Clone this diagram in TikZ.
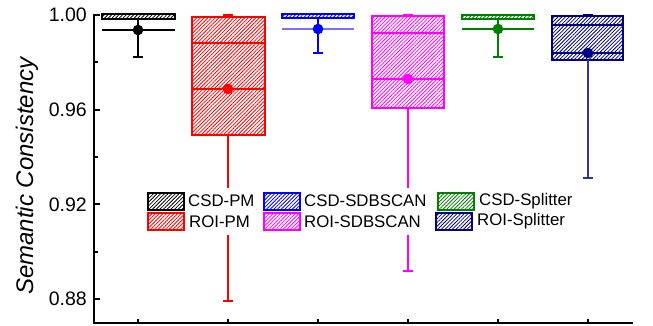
\documentclass[tikz,border=0pt]{standalone}
\usepackage{fontspec}
\setmainfont{Liberation Sans}
\usetikzlibrary{patterns.meta}
\definecolor{cgreen}{RGB}{0,128,0}
\definecolor{cnavy}{RGB}{0,0,128}
\definecolor{cmag}{RGB}{255,0,255}
\tikzset{
  hatchbox/.style={line width=1.5pt, draw=#1,
    pattern={Lines[angle=45,distance=2.6pt,line width=0.8pt]}, pattern color=#1},
  whisk/.style={line width=1.5pt, draw=#1},
  meandot/.style={fill=#1, draw=none},
  ticklab/.style={font=\fontsize{19.5}{22}\selectfont, anchor=east, inner sep=0pt},
  legtext/.style={font=\fontsize{16.8}{20}\selectfont, anchor=west, inner sep=0pt},
  swatch/.style={hatchbox=#1, minimum width=36pt, minimum height=17pt, inner sep=0pt, anchor=west},
  axisline/.style={line width=2pt, black}
}
\begin{document}
\begin{tikzpicture}[x=1pt,y=-1pt]
\useasboundingbox (0,0) rectangle (653,325);
% ---- CSD-PM (black)
\draw[hatchbox=black] (102,14) rectangle (175,19);
\draw[whisk=black] (102,30) -- (175,30);
\draw[whisk=black] (138,19) -- (138,57) (133,57) -- (143,57);
\fill[meandot=black] (138,30) circle (5.3);
% ---- ROI-PM (red)
\draw[hatchbox=red] (192,17) rectangle (265,135);
\draw[whisk=red] (192,43) -- (265,43) (192,89) -- (265,89);
\draw[whisk=red] (228,17) -- (228,15) (223,15) -- (233,15);
\draw[whisk=red] (228,135) -- (228,301) (223,301) -- (233,301);
\fill[meandot=red] (228,89) circle (5.3);
% ---- CSD-SDBSCAN (blue)
\draw[hatchbox=blue] (282,14) rectangle (354,18);
\draw[whisk=blue!55] (282,29) -- (354,29);
\draw[whisk=blue] (318,18) -- (318,53) (313,53) -- (323,53);
\fill[meandot=blue] (318,29) circle (5.3);
% ---- ROI-SDBSCAN (magenta)
\draw[hatchbox=cmag] (372,16) rectangle (444,108);
\draw[whisk=cmag] (372,33) -- (444,33) (372,79) -- (444,79);
\draw[whisk=cmag] (408,16) -- (408,15) (403,15) -- (413,15);
\draw[whisk=cmag] (408,108) -- (408,271) (403,271) -- (413,271);
\fill[meandot=cmag] (408,79) circle (5.3);
% ---- CSD-Splitter (green)
\draw[hatchbox=cgreen] (462,15) rectangle (534,19);
\draw[whisk=cgreen] (462,29) -- (534,29);
\draw[whisk=cgreen] (498,19) -- (498,57) (493,57) -- (503,57);
\fill[meandot=cgreen] (498,29) circle (5.3);
% ---- ROI-Splitter (navy)
\draw[hatchbox=cnavy] (552,16) rectangle (623,60);
\draw[whisk=cnavy] (552,25) -- (623,25) (552,53) -- (623,53);
\draw[whisk=cnavy] (588,16) -- (588,15) (583,15) -- (593,15);
\draw[whisk=cnavy!80] (588,60) -- (588,178) (583,178) -- (593,178);
\fill[meandot=cnavy] (588,53) circle (5.3);
% ---- legend
\fill[white] (142,188) rectangle (585,235);
\node[swatch=black] (s1) at (147,201.5) {};
\node[legtext] (t1) at (188,201) {CSD-PM};
\node[swatch=blue] (s2) at (263,201.5) {};
\node[legtext] (t2) at (304,201) {CSD-SDBSCAN};
\node[swatch=cgreen] (s3) at (437,201.5) {};
\node[legtext] (t3) at (479,201) {CSD-Splitter};
\node[swatch=red] (s4) at (147,221.5) {};
\node[legtext] (t4) at (189,221.5) {ROI-PM};
\node[swatch=cmag] (s5) at (263,221.5) {};
\node[legtext] (t5) at (304,221.5) {ROI-SDBSCAN};
\node[swatch=cnavy] (s6) at (435,221.5) {};
\node[legtext] (t6) at (477,221.5) {ROI-Splitter};
% ---- axes
\draw[axisline] (94,14) -- (94,323) -- (633,323);
\foreach \yy in {15,109.7,204.4,299.0} \draw[axisline] (94,\yy) -- (100,\yy);
\foreach \yy in {62.3,157.0,251.7} \draw[axisline] (94,\yy) -- (97.5,\yy);
\foreach \xx in {138,228,318,408,498,588} \draw[axisline] (\xx,323) -- (\xx,319);
\node[ticklab] (l100) at (87,15) {1.00};
\node[ticklab] (l096) at (87,109.7) {0.96};
\node[ticklab] (l092) at (87,204.4) {0.92};
\node[ticklab] (l088) at (87,299) {0.88};
\node[rotate=90, font=\fontsize{24}{28}\selectfont\itshape] (ylab) at (27,176) {Semantic Consistency};
\end{tikzpicture}
\end{document}
